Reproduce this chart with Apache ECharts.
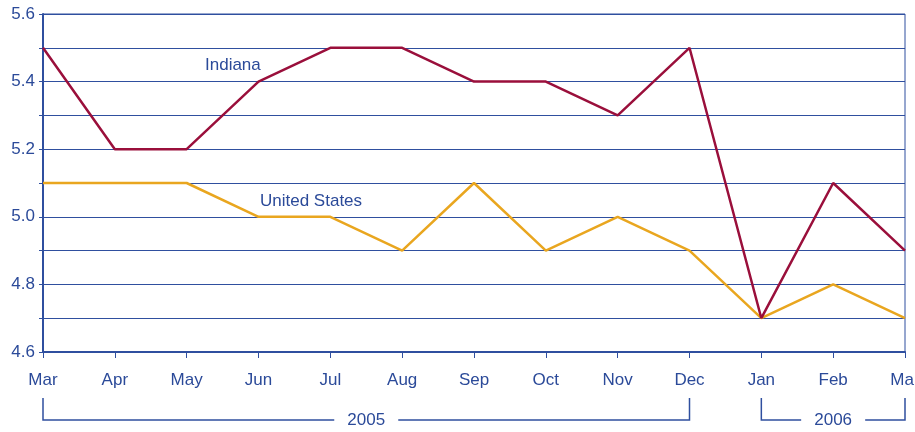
<!DOCTYPE html>
<html><head><meta charset="utf-8">
<script src="https://cdn.jsdelivr.net/npm/echarts@6/dist/echarts.min.js"></script>
<style>html,body{margin:0;padding:0;background:#fff;overflow:hidden}#c{width:915px;height:432px}</style>
</head><body><div id="c"></div>
<script>
const months = ['Mar','Apr','May','Jun','Jul','Aug','Sep','Oct','Nov','Dec','Jan','Feb','Mar'];
const indiana = [5.5,5.2,5.2,5.4,5.5,5.5,5.4,5.4,5.3,5.5,4.7,5.1,4.9];
const unitedStates = [5.1,5.1,5.1,5.0,5.0,4.9,5.1,4.9,5.0,4.9,4.7,4.8,4.7];
const years = [{label:'2005', from:0, to:9},{label:'2006', from:10, to:12}];

const blue = '#2f4f9f';
const textBlue = '#2b4a99';
const font = 'Liberation Sans, Arial, sans-serif';
const chart = echarts.init(document.getElementById('c'));
chart.setOption({
  animation:false,
  grid:{left:43,right:10,top:14,bottom:80,show:true,borderColor:blue,borderWidth:1,containLabel:false,outerBoundsMode:'none'},
  xAxis:{type:'category',data:months,boundaryGap:false,
    axisLine:{lineStyle:{color:blue,width:2}},
    axisTick:{show:true,alignWithLabel:true,length:6,lineStyle:{color:blue}},
    axisLabel:{color:textBlue,fontSize:17,fontFamily:font,margin:20},
    splitLine:{show:false}},
  yAxis:{type:'value',min:4.6,max:5.6,interval:0.1,
    axisLine:{show:true,lineStyle:{color:blue,width:2}},
    axisTick:{show:true,length:4,lineStyle:{color:blue}},
    axisLabel:{color:textBlue,fontSize:17,fontFamily:font,margin:8,
      formatter:v=>{const k=Math.round(v*10);return k%2===0?(k/10).toFixed(1):'';}},
    splitLine:{show:true,lineStyle:{color:blue,width:1}}},
  series:[
    {name:'Indiana',type:'line',data:indiana,symbol:'none',lineStyle:{color:'#9a0f3b',width:2.5},z:3},
    {name:'United States',type:'line',data:unitedStates,symbol:'none',lineStyle:{color:'#e9a61f',width:2.5},z:2}
  ]
});

const g = [
  {type:'text',left:205,top:57,style:{text:'Indiana',fill:textBlue,font:'17px '+font}},
  {type:'text',left:260,top:193,style:{text:'United States',fill:textBlue,font:'17px '+font}}
];
const yTop = 398, yLine = 420;
years.forEach(y=>{
  const x1 = chart.convertToPixel({xAxisIndex:0}, y.from);
  const x2 = chart.convertToPixel({xAxisIndex:0}, y.to);
  const mid = (x1+x2)/2;
  const half = 32;
  g.push({type:'polyline',shape:{points:[[x1,yTop],[x1,yLine],[mid-half,yLine]]},style:{stroke:blue,lineWidth:1.5,fill:null}});
  g.push({type:'polyline',shape:{points:[[mid+half,yLine],[x2,yLine],[x2,yTop]]},style:{stroke:blue,lineWidth:1.5,fill:null}});
  g.push({type:'text',x:mid,y:yLine,style:{text:y.label,fill:textBlue,font:'17px '+font,align:'center',verticalAlign:'middle'}});
});
chart.setOption({graphic:g});
</script></body></html>
